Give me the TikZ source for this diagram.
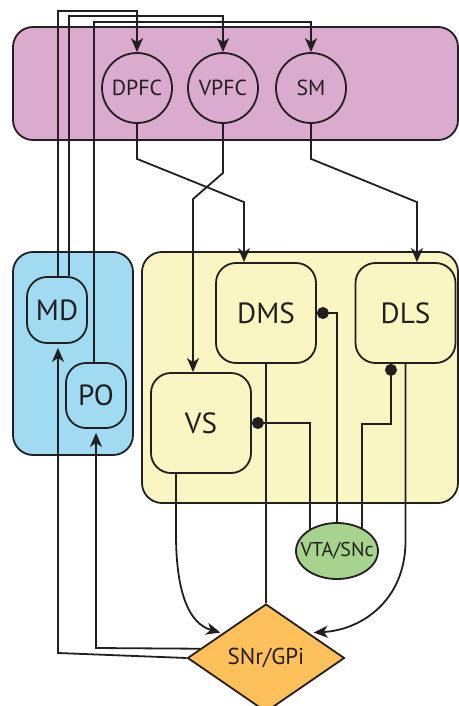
\documentclass[tikz,border=0pt]{standalone}
\usepackage{fontspec}
\setmainfont{PT Sans}
\usepackage{xcolor}
\usepackage{tikz}
\usetikzlibrary{shapes.geometric, arrows.meta, positioning}

\definecolor{inkblack}{HTML}{231F20}
\definecolor{cortexpink}{HTML}{DBABCF}
\definecolor{thalblue}{HTML}{A1DBF1}
\definecolor{striatyellow}{HTML}{FAF6C3}
\definecolor{vtagreen}{HTML}{A6D38D}
\definecolor{snrorange}{HTML}{FDC05A}

\begin{document}
\begin{tikzpicture}[
    x=0.5pt, y=-0.5pt,
    color=inkblack,
    line width=0.9pt,
    region/.style={draw, rectangle, rounded corners=10pt},
    area/.style={draw, circle, minimum size=35pt, inner sep=0pt, fill=cortexpink, font=\fontsize{10.9}{12}\selectfont},
    nucleus/.style={draw, rectangle, rounded corners=10pt, inner sep=0pt, font=\fontsize{14.6}{16}\selectfont},
    arrow/.style={-{Stealth[length=7pt, width=6pt, inset=2pt]}},
    dot/.style={-{Circle[length=6pt]}},
]
\useasboundingbox (0, 0) rectangle (459, 706);

% Regions
\node[region, fill=cortexpink, minimum width=222.5pt, minimum height=56.5pt] (cortex) at (235.5, 83.5) {};
\node[region, fill=thalblue, minimum width=60pt, minimum height=101.5pt] (thalamus) at (73, 353.5) {};
\node[region, fill=striatyellow, minimum width=158pt, minimum height=125.5pt] (striatum) at (300, 377.5) {};

% Cortex
\node[area] (DPFC) at (137, 88) {DPFC};
\node[area] (VPFC) at (223, 88) {VPFC};
\node[area] (SM) at (311, 88) {SM};

% Thalamus
\node[nucleus, fill=thalblue, minimum width=30pt, minimum height=33pt] (MD) at (57, 310) {MD};
\node[nucleus, fill=thalblue, minimum width=30pt, minimum height=32.5pt] (PO) at (96, 395.5) {PO};

% Striatum
\node[nucleus, fill=striatyellow, minimum size=50pt] (DMS) at (266, 313) {DMS};
\node[nucleus, fill=striatyellow, minimum size=50pt] (DLS) at (405.5, 313) {DLS};
\node[nucleus, fill=striatyellow, minimum size=50pt] (VS) at (201, 423) {VS};

% Midbrain
\node[draw, ellipse, fill=vtagreen, minimum width=41pt, minimum height=28pt, inner xsep=-4pt, inner ysep=0pt, font=\fontsize{10}{12}\selectfont] (VTA) at (337, 551) {VTA/SNc};
\node[draw, diamond, fill=snrorange, minimum width=78.5pt, minimum height=54pt, inner sep=0pt, font=\fontsize{11.5}{13}\selectfont] (SNr) at (266, 658) {SNr/GPi};

% Thalamus to cortex
\draw[arrow] ([xshift=0.5pt]MD.north) |- ([yshift=20.5pt]DPFC.north) -- (DPFC.north);
\draw[arrow] ([xshift=6pt]MD.north) |- ([yshift=18pt]VPFC.north) -- (VPFC.north);
\draw[arrow] ([xshift=-1pt]PO.north) |- ([yshift=15pt]SM.north) -- (SM.north);

% Cortex to striatum
\draw[arrow] (DPFC.south) -- ++(0, 35) -- ([xshift=-11pt, yshift=30pt]DMS.north) -- ([xshift=-11pt]DMS.north);
\draw[arrow] (VPFC.south) -- ++(0, 49) -- ([xshift=-4pt, yshift=86.5pt]VS.north) -- ([xshift=-4pt]VS.north);
\draw[arrow] (SM.south) -- ++(0, 35) -- ([xshift=5.75pt, yshift=30pt]DLS.north) -- ([xshift=5.75pt]DLS.north);

% Striatum to SNr/GPi
\draw[arrow] ([xshift=-12.5pt]VS.south) -- ++(0, 60) .. controls (176, 595) and (190, 624) .. ([xshift=-3pt, yshift=-1pt]SNr.north west);
\draw (DMS.south) -- (SNr.north);
\draw[arrow] (DLS.south) -- ++(0, 177) .. controls (405.5, 600) and (362, 630) .. ([xshift=4pt, yshift=-1pt]SNr.north east);

% SNr/GPi to thalamus
\draw[arrow, shorten >=2pt] (SNr.west) -- (58, 653) -- ([xshift=0.5pt]MD.south);
\draw[arrow, shorten >=2pt] (SNr.172) -- (96, 648) -- (PO.south);

% Dopamine
\draw[dot] (VTA.140) |- (VS.east);
\draw[dot] (VTA.north) |- (DMS.east);
\draw[dot] (VTA.43) |- ([xshift=-7.25pt, yshift=-30pt]DLS.south) -- ([xshift=-7.25pt]DLS.south);

\end{tikzpicture}
\end{document}
